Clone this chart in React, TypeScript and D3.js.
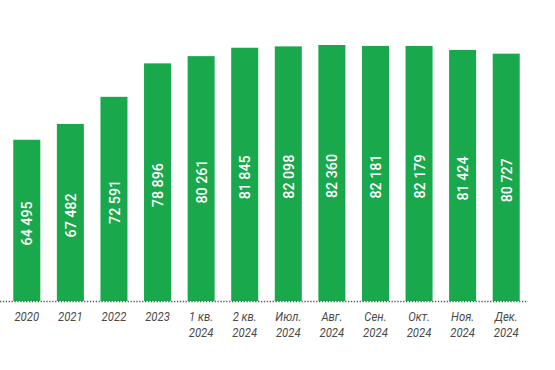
import React from 'react'
import * as d3 from 'd3'

const categories = ['2020', '2021', '2022', '2023', '1 кв.|2024', '2 кв.|2024', 'Июл.|2024', 'Авг.|2024', 'Сен.|2024', 'Окт.|2024', 'Ноя.|2024', 'Дек.|2024']
const values = [64495, 67482, 72591, 78896, 80261, 81845, 82098, 82360, 82181, 82179, 81424, 80727]
const valueLabels = ['64 495', '67 482', '72 591', '78 896', '80 261', '81 845', '82 098', '82 360', '82 181', '82 179', '81 424', '80 727']

const width = 555
const height = 370
const baseline = 301

const x = d3.scaleBand().domain(categories).range([5, 528]).paddingInner(0.38).paddingOuter(0.19)
const y = d3.scaleLinear().domain([34100, 82360]).range([baseline, 45])

const green = '#19a84c'

export default function App () {
  return (
    <svg width={width} height={height} style={{ position: 'absolute', left: 0, top: 0, background: '#fff' }}>
      {values.map((v, i) => {
        const c = categories[i]
        const bx = x(c)
        const cx = bx + x.bandwidth() / 2
        const top = y(v)
        const mid = (top + baseline) / 2 + 3
        return (
          <g key={c}>
            <rect x={bx} y={top} width={x.bandwidth()} height={baseline - top} fill={green} />
            <text
              transform={`translate(${cx},${mid}) rotate(-90) scale(0.92,1)`}
              textAnchor='middle'
              dy='0.36em'
              fill='#fff'
              fontFamily='Roboto, sans-serif'
              fontWeight={500}
              fontSize={15.5}
            >
              {valueLabels[i]}
            </text>
          </g>
        )
      })}
      <line x1={0} x2={528} y1={baseline + 0.5} y2={baseline + 0.5} stroke='#555' strokeWidth={1.3} strokeDasharray='1.3,1.6' />
      {categories.map(c => {
        const cx = x(c) + x.bandwidth() / 2
        const lines = c.split('|')
        return (
          <text
            key={c}
            transform={`translate(${cx},0) scale(0.84,1)`}
            textAnchor='middle'
            fill='#4a4a4a'
            fontFamily='Roboto, sans-serif'
            fontStyle='italic'
            fontSize={13.5}
          >
            {lines.map((l, j) => (
              <tspan key={j} x={0} y={321 + j * 16}>{l}</tspan>
            ))}
          </text>
        )
      })}
    </svg>
  )
}
